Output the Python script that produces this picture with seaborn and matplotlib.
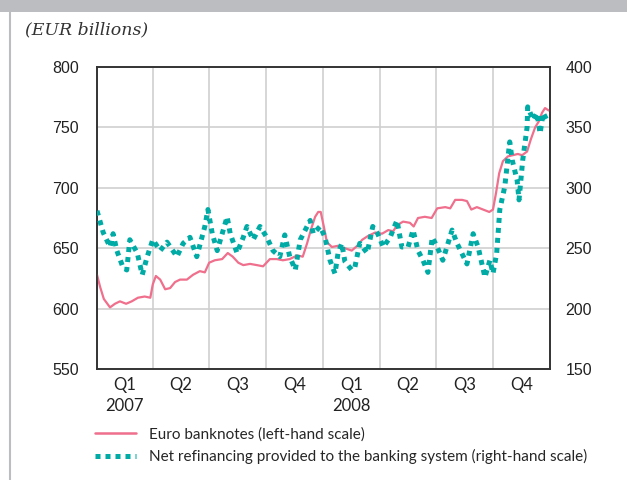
import matplotlib
matplotlib.use("Agg")
import matplotlib.pyplot as plt
from matplotlib.lines import Line2D
from matplotlib.patches import Rectangle
import pandas as pd
import seaborn as sns

# Euro banknotes in circulation (EUR billions, left-hand scale)
banknote_dates = [
    "2007-01-01", "2007-01-06", "2007-01-12", "2007-01-22", "2007-01-30", "2007-02-07",
    "2007-02-17", "2007-02-26", "2007-03-08", "2007-03-19", "2007-03-28", "2007-04-01",
    "2007-04-06", "2007-04-13", "2007-04-21", "2007-04-29", "2007-05-07", "2007-05-15",
    "2007-05-26", "2007-06-05", "2007-06-16", "2007-06-24", "2007-07-01", "2007-07-10",
    "2007-07-22", "2007-07-31", "2007-08-08", "2007-08-17", "2007-08-25", "2007-09-05",
    "2007-09-16", "2007-09-26", "2007-10-07", "2007-10-18", "2007-10-28", "2007-11-08",
    "2007-11-20", "2007-11-29", "2007-12-06", "2007-12-12", "2007-12-19", "2007-12-24",
    "2007-12-28", "2008-01-02", "2008-01-07", "2008-01-15", "2008-01-25", "2008-02-05",
    "2008-02-16", "2008-02-25", "2008-03-04", "2008-03-13", "2008-03-25", "2008-04-05",
    "2008-04-15", "2008-04-23", "2008-04-29", "2008-05-09", "2008-05-20", "2008-05-26",
    "2008-06-02", "2008-06-13", "2008-06-24", "2008-07-03", "2008-07-16", "2008-07-24",
    "2008-08-01", "2008-08-12", "2008-08-20", "2008-08-27", "2008-09-05", "2008-09-15",
    "2008-09-25", "2008-10-01", "2008-10-06", "2008-10-11", "2008-10-17", "2008-10-25",
    "2008-11-02", "2008-11-10", "2008-11-17", "2008-11-25", "2008-12-01", "2008-12-08",
    "2008-12-14", "2008-12-19", "2008-12-24", "2008-12-30",
]
banknote_values = [
    628, 618, 608, 601, 604, 606,
    604, 606, 609, 610, 609, 620,
    627, 624, 616, 617, 622, 624,
    624, 628, 631, 630, 638, 640,
    641, 646, 643, 638, 636, 637,
    636, 635, 641, 641, 640, 641,
    644, 643, 654, 665, 676, 680,
    680, 668, 655, 651, 652, 650,
    648, 652, 657, 660, 663, 662,
    665, 664, 669, 672, 671, 668,
    675, 676, 675, 683, 684, 683,
    690, 690, 689, 682, 684, 682,
    680, 682, 696, 712, 722, 726,
    727, 728, 727, 730, 740, 750,
    755, 762, 766, 764,
]

# Net refinancing provided to the banking system (EUR billions, right-hand scale)
refi_dates = [
    "2007-01-01", "2007-01-11", "2007-01-22", "2007-01-27", "2007-02-02", "2007-02-12",
    "2007-02-18", "2007-02-23", "2007-03-07", "2007-03-15", "2007-03-23", "2007-04-01",
    "2007-04-13", "2007-04-24", "2007-05-10", "2007-05-20", "2007-05-31", "2007-06-11",
    "2007-06-24", "2007-06-29", "2007-07-06", "2007-07-14", "2007-07-22", "2007-07-30",
    "2007-08-04", "2007-08-15", "2007-08-25", "2007-08-31", "2007-09-10", "2007-09-21",
    "2007-10-02", "2007-10-12", "2007-10-23", "2007-10-31", "2007-11-08", "2007-11-17",
    "2007-11-25", "2007-12-03", "2007-12-11", "2007-12-16", "2007-12-27", "2008-01-04",
    "2008-01-12", "2008-01-20", "2008-01-25", "2008-01-31", "2008-02-05", "2008-02-16",
    "2008-02-21", "2008-02-29", "2008-03-12", "2008-03-21", "2008-03-29", "2008-04-07",
    "2008-04-18", "2008-04-29", "2008-05-07", "2008-05-17", "2008-05-25", "2008-06-02",
    "2008-06-10", "2008-06-18", "2008-06-25", "2008-07-03", "2008-07-12", "2008-07-27",
    "2008-08-04", "2008-08-20", "2008-08-30", "2008-09-07", "2008-09-18", "2008-09-26",
    "2008-10-01", "2008-10-07", "2008-10-12", "2008-10-20", "2008-10-28", "2008-11-01",
    "2008-11-09", "2008-11-12", "2008-11-18", "2008-11-25", "2008-11-26", "2008-12-05",
    "2008-12-11", "2008-12-16", "2008-12-21", "2008-12-27", "2008-12-31",
]
refi_values = [
    281, 263, 251, 262, 248, 234,
    232, 257, 246, 228, 243, 257,
    248, 255, 243, 254, 259, 243,
    268, 282, 262, 248, 262, 276,
    262, 246, 259, 268, 257, 268,
    259, 248, 243, 261, 243, 232,
    257, 265, 273, 262, 268, 259,
    240, 229, 246, 254, 239, 232,
    234, 254, 246, 268, 262, 251,
    259, 273, 251, 251, 265, 248,
    240, 230, 259, 251, 240, 265,
    254, 237, 262, 251, 226, 240,
    229, 246, 282, 301, 338, 323,
    306, 290, 323, 350, 367, 356,
    362, 345, 362, 356, 355,
]

left_ticks = [550, 600, 650, 700, 750, 800]
right_ticks = [150, 200, 250, 300, 350, 400]
quarter_labels = ["Q1\n2007", "Q2", "Q3", "Q4", "Q1\n2008", "Q2", "Q3", "Q4"]

pink = "#ef6f8c"
teal = "#00aba6"
grid_grey = "#cfcfcf"
frame_grey = "#bcbdc0"

sns.set_style("white")
label_font = "Lato"
number_font = "Liberation Sans"

fig = plt.figure(figsize=(6.27, 4.8), dpi=100)
ax = fig.add_axes([97 / 627, 1 - 369 / 480, 453 / 627, 302 / 480])
ax2 = ax.twinx()

notes = pd.DataFrame({"date": pd.to_datetime(banknote_dates), "value": banknote_values})
refi = pd.DataFrame({"date": pd.to_datetime(refi_dates), "value": refi_values})

sns.lineplot(data=notes, x="date", y="value", ax=ax, color=pink, linewidth=1.6, zorder=3)
sns.lineplot(data=refi, x="date", y="value", ax=ax2, color=teal, linewidth=3.6,
             linestyle=(0, (1, 1)), dash_capstyle="butt", zorder=3)

start, end = pd.Timestamp("2007-01-01"), pd.Timestamp("2009-01-01")
ax.set_xlim(start, end)
ax.set_ylim(left_ticks[0], left_ticks[-1])
ax2.set_ylim(right_ticks[0], right_ticks[-1])

# quarter boundaries carry the grid, quarter midpoints carry the labels
q_starts = pd.date_range(start, end, freq="QS")
q_mids = [a + (b - a) / 2 for a, b in zip(q_starts[:-1], q_starts[1:])]
ax.set_xticks(q_starts)
ax.set_xticklabels([""] * len(q_starts))
ax.set_xticks(q_mids, minor=True)
ax.set_xticklabels(quarter_labels, minor=True, fontfamily=label_font, fontsize=12,
                   color="#222222", linespacing=1.35)
ax.tick_params(axis="x", which="both", length=0, pad=6)

ax.set_yticks(left_ticks)
ax.set_yticklabels([str(v) for v in left_ticks], fontfamily=number_font, fontsize=11.5,
                   color="#222222")
ax2.set_yticks(right_ticks)
ax2.set_yticklabels([str(v) for v in right_ticks], fontfamily=number_font, fontsize=11.5,
                    color="#222222")
ax.tick_params(axis="y", length=0, pad=13)
ax2.tick_params(axis="y", length=0, pad=11)

ax.grid(True, which="major", color=grid_grey, linewidth=1.2)
ax.set_axisbelow(True)
ax2.grid(False)
ax.set_xlabel("")
ax.set_ylabel("")
ax2.set_ylabel("")
for a in (ax, ax2):
    for s in a.spines.values():
        s.set_color("#333333")
        s.set_linewidth(1.2)

# header band and left frame rule
fig.patches.append(Rectangle((0, 1 - 12 / 480), 1, 12 / 480, transform=fig.transFigure,
                             facecolor=frame_grey, edgecolor="none"))
fig.lines.append(Line2D([10 / 627, 10 / 627], [0, 1 - 12 / 480], transform=fig.transFigure,
                        color=frame_grey, linewidth=1.5))

fig.text(25 / 627, 1 - 30 / 480, "(EUR billions)", fontfamily="DejaVu Serif",
         fontstyle="italic", fontsize=12.5, color="#333333", va="center", ha="left")

handles = [
    Line2D([], [], color=pink, linewidth=1.8),
    Line2D([], [], color=teal, linewidth=3.6, linestyle=(0, (1, 1)), dash_capstyle="butt"),
]
labels = [
    "Euro banknotes (left-hand scale)",
    "Net refinancing provided to the banking system (right-hand scale)",
]
fig.legend(handles, labels, loc="upper left", bbox_to_anchor=(95 / 627, 1 - 427 / 480),
           frameon=False, handlelength=2.7, handletextpad=0.85, labelspacing=0.5,
           borderpad=0, borderaxespad=0, prop={"family": label_font, "size": 11})

fig.savefig("out.png", dpi=100)
